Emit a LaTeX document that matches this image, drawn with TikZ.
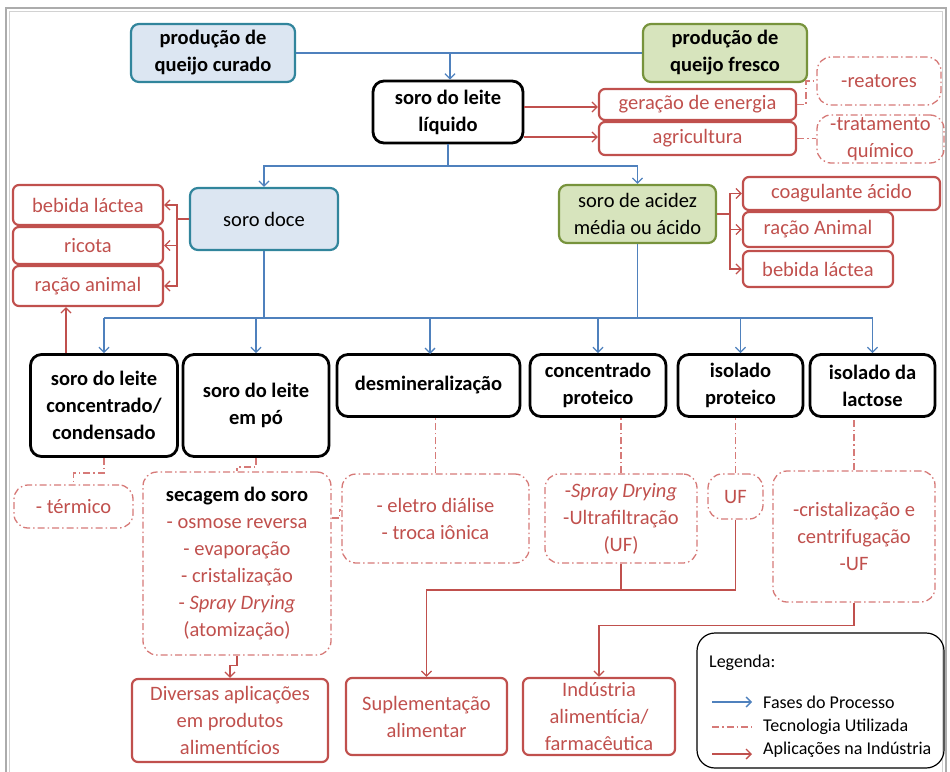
\documentclass[tikz,border=0pt]{standalone}
\usepackage{fontspec}
\setmainfont{Carlito}
\usepackage{tikz}
\usetikzlibrary{arrows.meta,calc}
\definecolor{fase-blue}{RGB}{79,129,189}
\definecolor{aplic-red}{RGB}{192,80,77}
\definecolor{tec-red}{RGB}{214,122,120}
\definecolor{curado-fill}{RGB}{220,230,242}
\definecolor{curado-line}{RGB}{49,133,156}
\definecolor{fresco-fill}{RGB}{215,228,189}
\definecolor{fresco-line}{RGB}{119,147,60}
\tikzset{
	open tip/.style={-{Straight Barb[length=5pt,width=10pt]}},
	box font/.style={font=\fontsize{20.5}{27}\selectfont},
	bold font/.style={font=\fontsize{20.5}{27}\selectfont\bfseries}
}
\tikzstyle{boxbase}=[align=center, inner sep=0pt, box font]
\tikzstyle{etapa}=[boxbase, bold font, draw=black, line width=2.8pt, rounded corners=11pt]
\tikzstyle{soroazul}=[boxbase, draw=curado-line, fill=curado-fill, line width=2.2pt, rounded corners=8pt]
\tikzstyle{soroverde}=[boxbase, draw=fresco-line, fill=fresco-fill, line width=2.2pt, rounded corners=8pt]
\tikzstyle{aplic}=[boxbase, draw=aplic-red, text=aplic-red, line width=2.2pt, rounded corners=6pt]
\tikzstyle{tecno}=[boxbase, draw=tec-red, text=aplic-red, line width=1.3pt, rounded corners=14pt, dash pattern=on 7pt off 3pt on 1.5pt off 3pt]
\tikzstyle{fase}=[draw=fase-blue, line width=1.3pt]
\tikzstyle{faseseta}=[fase, open tip]
\tikzstyle{apliclinha}=[draw=aplic-red, line width=1.3pt]
\tikzstyle{aplicseta}=[apliclinha, open tip]
\tikzstyle{teclinha}=[draw=tec-red, line width=1.3pt, dash pattern=on 7pt off 3pt on 1.5pt off 3pt]
\tikzstyle{legtexto}=[anchor=west, inner sep=0pt, font=\fontsize{18}{22}\selectfont]

\begin{document}
\begin{tikzpicture}[x=1pt,y=-1pt]
	\useasboundingbox (0,0) rectangle (950,771);
	% moldura
	\draw[gray!65, line width=1.8pt] (6,775) -- (6,8) -- (946,8) -- (946,775);
	\draw[gray!35, line width=1pt] (9.5,775) -- (9.5,11.5) -- (942.5,11.5) -- (942.5,775);

	% origem do soro
	\node[soroazul, bold font, minimum width=164pt, minimum height=58pt] (curado) at (213,53) {produção de\\queijo curado};
	\node[soroverde, bold font, minimum width=164pt, minimum height=58pt] (fresco) at (725,53) {produção de\\queijo fresco};
	\node[etapa, minimum width=150pt, minimum height=62pt] (liquido) at (448,112) {soro do leite\\líquido};
	\node[aplic, minimum width=197pt, minimum height=31pt] (energia) at (697.5,104.5) {geração de energia};
	\node[aplic, minimum width=197pt, minimum height=33pt] (agric) at (697.5,138.5) {agricultura};
	\node[tecno, minimum width=124pt, minimum height=48pt] (reatores) at (879,81) {-reatores};
	\node[tecno, minimum width=127pt, minimum height=48pt] (tratamento) at (880.5,139) {-tratamento\\químico};

	\coordinate (topo) at (450,53);
	\draw[fase] (curado.east) -- (fresco.west);
	\draw[faseseta] (topo) -- (topo |- liquido.north);
	\draw[aplicseta] (liquido.east |- 0,107) -- (energia.west |- 0,107);
	\draw[aplicseta] (liquido.east |- 0,137) -- (agric.west |- 0,137);
	\draw[teclinha] (energia.east) -- ++(9,0) |- (reatores.west);
	\draw[teclinha] (agric.east) -- (agric.east -| tratamento.west);

	% tipos de soro
	\node[soroazul, minimum width=148pt, minimum height=62pt] (doce) at (264,219) {soro doce};
	\node[soroverde, minimum width=157pt, minimum height=58pt] (acidez) at (637.5,214) {soro de acidez\\média ou ácido};
	\node[aplic, minimum width=150pt, minimum height=40pt] (bebidaL) at (88,205) {bebida láctea};
	\node[aplic, minimum width=150pt, minimum height=37pt] (ricota) at (88,245.5) {ricota};
	\node[aplic, minimum width=150pt, minimum height=40pt] (racaoL) at (88,286) {ração animal};
	\node[aplic, minimum width=197pt, minimum height=33pt] (coag) at (841.5,193.5) {coagulante ácido};
	\node[aplic, minimum width=150pt, minimum height=35pt] (racaoR) at (818,229.5) {ração Animal};
	\node[aplic, minimum width=150pt, minimum height=36pt] (bebidaR) at (818,269) {bebida láctea};

	\coordinate (meio) at (448,166);
	\draw[fase] (liquido.south) -- (meio);
	\draw[faseseta] (meio) -| (doce.north);
	\draw[faseseta] (meio) -| (acidez.north);
	\coordinate (doceJ) at (177,219);
	\draw[apliclinha] (doce.west) -- (doceJ);
	\draw[aplicseta] (doceJ) |- (bebidaL.east);
	\draw[aplicseta] (doceJ) |- (ricota.east);
	\draw[aplicseta] (doceJ) |- (racaoL.east);
	\coordinate (acidJ) at (730,214);
	\draw[apliclinha] (acidez.east) -- (acidJ);
	\draw[aplicseta] (acidJ) |- (coag.west);
	\draw[aplicseta] (acidJ) |- (racaoR.west);
	\draw[aplicseta] (acidJ) |- (bebidaR.west);

	% fases do processo
	\node[etapa, minimum width=147pt, minimum height=102pt] (condensado) at (104,405.5) {soro do leite\\concentrado/\\condensado};
	\node[etapa, minimum width=146pt, minimum height=102pt] (empo) at (256,405.5) {soro do leite\\em pó};
	\node[etapa, minimum width=183pt, minimum height=62pt] (desmin) at (428.5,385.5) {desmineralização};
	\node[etapa, minimum width=136pt, minimum height=62pt] (concprot) at (598,385.5) {concentrado\\proteico};
	\node[etapa, minimum width=125pt, minimum height=62pt] (isoprot) at (740.5,385.5) {isolado\\proteico};
	\node[etapa, minimum width=125pt, minimum height=62pt] (isolact) at (872.5,385.5) {isolado da\\lactose};

	\coordinate (barraE) at (104,318);
	\coordinate (barraD) at (873,318);
	\draw[fase] (barraE) -- (barraD);
	\draw[fase] (doce.south) -- (doce.south |- barraE);
	\draw[fase] (acidez.south) -- (acidez.south |- barraE);
	\draw[faseseta] (condensado.north |- barraE) -- (condensado.north);
	\draw[faseseta] (empo.north |- barraE) -- (empo.north);
	\draw[faseseta] (430,318) -- (430,354);
	\draw[faseseta] (concprot.north |- barraE) -- (concprot.north);
	\draw[faseseta] (isoprot.north |- barraE) -- (isoprot.north);
	\draw[faseseta] (isolact.north |- barraE) -- (isolact.north);
	\draw[aplicseta] ([xshift=-38pt]condensado.north) -- ([xshift=-38pt]condensado.north |- racaoL.south);

	% tecnologias
	\node[tecno, minimum width=119pt, minimum height=43pt] (termico) at (73.5,506.5) {- térmico};
	\node[tecno, minimum width=188pt, minimum height=183pt] (secagem) at (237,563.5) {\textcolor{black}{\bfseries secagem do soro}\\- osmose reversa\\- evaporação\\- cristalização\\- \textit{Spray Drying}\\(atomização)};
	\node[tecno, minimum width=187pt, minimum height=89pt] (desmintec) at (435.5,518.5) {- eletro diálise\\- troca iônica};
	\node[tecno, minimum width=152pt, minimum height=89pt] (conctec) at (621,518.5) {-\textit{Spray Drying}\\-Ultrafiltração\\(UF)};
	\node[tecno, minimum width=55pt, minimum height=45pt] (uf) at (735.5,496.5) {UF};
	\node[tecno, minimum width=162pt, minimum height=131pt] (lacttec) at (854,536.5) {-cristalização e\\centrifugação\\-UF};

	\draw[teclinha] (condensado.south) -- ++(0,15) -| (termico.north);
	\draw[teclinha] (empo.south) -- ++(0,9) -| (secagem.north);
	\draw[teclinha] (desmintec.north) -- (desmintec.north |- desmin.south);
	\draw[teclinha] (conctec.north) -- (conctec.north |- concprot.south);
	\draw[teclinha] (uf.north) -- (uf.north |- isoprot.south);
	\draw[teclinha] (lacttec.north) -- (lacttec.north |- isolact.south);
	\draw[teclinha] ([yshift=45.5pt]secagem.east) -- ++(8,0) |- ([yshift=8.5pt]desmintec.west);

	% aplicações
	\node[aplic, minimum width=196pt, minimum height=83pt] (diversas) at (230,720.5) {Diversas aplicações\\em produtos\\alimentícios};
	\node[aplic, minimum width=161pt, minimum height=77pt] (supl) at (426.5,716.5) {Suplementação\\alimentar};
	\node[aplic, minimum width=152pt, minimum height=77pt] (industria) at (599,716.5) {Indústria\\alimentícia/\\farmacêutica};

	\coordinate (suplJ) at (621,590);
	\draw[aplicseta] (secagem.south) -- ++(0,10) -| (diversas.north);
	\draw[apliclinha] (uf.south) |- (suplJ);
	\draw[aplicseta] (conctec.south) -- (suplJ) -| (supl.north);
	\draw[aplicseta] (lacttec.south) -- ++(0,23) -| (industria.north);

	% legenda
	\node[draw=black, line width=1.2pt, rounded corners=18pt, minimum width=247pt, minimum height=135pt] (legenda) at (820.5,700.5) {};
	\node[legtexto] (legtitulo) at (709,663) {Legenda:};
	\node[legtexto] (legfase) at (763,702) {Fases do Processo};
	\node[legtexto] (legtec) at (763,727) {Tecnologia Utilizada};
	\node[legtexto] (legapl) at (763,750) {Aplicações na Indústria};
	\draw[faseseta] ($(legfase.west)+(-51,0)$) -- ($(legfase.west)+(-11,0)$);
	\draw[teclinha] ($(legtec.west)+(-51,0)$) -- ($(legtec.west)+(-11,0)$);
	\draw[aplicseta] ($(legapl.west)+(-51,4)$) -- ($(legapl.west)+(-11,4)$);
\end{tikzpicture}
\end{document}
